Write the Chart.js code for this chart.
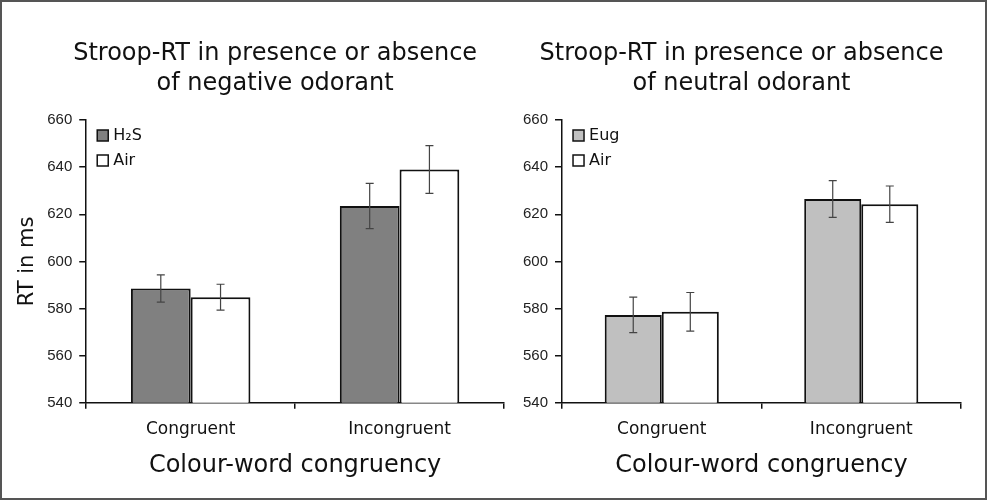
<!DOCTYPE html>
<html>
<head>
<meta charset="utf-8">
<script src="https://cdn.jsdelivr.net/npm/chart.js@4/dist/chart.umd.min.js"></script>
<style>
    html, body { margin: 0; padding: 0; background: #fff; }
    #frame { position: relative; width: 987px; height: 500px; box-sizing: border-box; border: 2px solid #555; overflow: hidden; }
    canvas { position: absolute; top: -2px; }
    #left { left: -2px; }
    #right { left: 513px; }
</style>
</head>
<body>
<div id="frame">
    <canvas id="left" width="515" height="500"></canvas>
    <canvas id="right" width="474" height="500"></canvas>
</div>
<script>
// categories and values (ms)
const categories = ['Congruent', 'Incongruent'];
const yTicks = [540, 560, 580, 600, 620, 640, 660];

const negH2S = [588.5, 623.5];
const negH2SErr = [5.8, 9.6];
const negAir = [584.8, 639.0];
const negAirErr = [5.5, 10.1];

const neuEug = [577.3, 626.5];
const neuEugErr = [7.5, 7.8];
const neuAir = [578.6, 624.3];
const neuAirErr = [8.2, 7.7];

const txtFont = 'DejaVu Sans';

// error bars drawn on top of each bar
const errorBars = {
    id: 'errorBars',
    afterDatasetsDraw(chart) {
        const ctx = chart.ctx;
        const y = chart.scales.y;
        chart.data.datasets.forEach((ds, i) => {
            const meta = chart.getDatasetMeta(i);
            meta.data.forEach((bar, j) => {
                const v = ds.data[j];
                const e = ds.errors[j];
                const top = y.getPixelForValue(v + e);
                const bot = y.getPixelForValue(v - e);
                ctx.save();
                ctx.strokeStyle = '#444';
                ctx.lineWidth = 1.2;
                ctx.beginPath();
                ctx.moveTo(bar.x, top); ctx.lineTo(bar.x, bot);
                ctx.moveTo(bar.x - 4, top); ctx.lineTo(bar.x + 4, top);
                ctx.moveTo(bar.x - 4, bot); ctx.lineTo(bar.x + 4, bot);
                ctx.stroke();
                ctx.restore();
            });
        });
    }
};

// small legend inside the plot, top left
const innerLegend = {
    id: 'innerLegend',
    afterDraw(chart) {
        const ctx = chart.ctx;
        const a = chart.chartArea;
        chart.data.datasets.forEach((ds, i) => {
            const x = a.left + 11;
            const yy = a.top + 10 + i * 25;
            ctx.save();
            ctx.fillStyle = ds.backgroundColor;
            ctx.strokeStyle = '#111';
            ctx.lineWidth = 1.5;
            ctx.fillRect(x, yy, 11, 11);
            ctx.strokeRect(x, yy, 11, 11);
            ctx.fillStyle = '#111';
            ctx.font = '16px "' + txtFont + '"';
            ctx.textBaseline = 'middle';
            ctx.fillText(ds.label, x + 16, yy + 6);
            ctx.restore();
        });
    }
};

// two-line panel title, a little left of the plot centre like the original
const panelTitle = {
    id: 'panelTitle',
    afterDraw(chart, args, opts) {
        const ctx = chart.ctx;
        const a = chart.chartArea;
        const cx = (a.left + a.right) / 2 - 20;
        ctx.save();
        ctx.fillStyle = '#111';
        ctx.font = '24px "' + txtFont + '"';
        ctx.textAlign = 'center';
        ctx.textBaseline = 'middle';
        opts.lines.forEach((t, i) => ctx.fillText(t, cx, 54 + i * 30));
        ctx.restore();
    }
};

function makeChart(id, title, series, showYTitle, padding) {
    const ctx = document.getElementById(id).getContext('2d');
    return new Chart(ctx, {
        type: 'bar',
        data: {
            labels: categories,
            datasets: series.map(s => ({
                label: s.label,
                data: s.data,
                errors: s.errors,
                backgroundColor: s.color,
                borderColor: '#111',
                borderWidth: 2,
                borderSkipped: 'bottom',
                categoryPercentage: 0.572,
                barPercentage: 1.0
            }))
        },
        options: {
            responsive: false,
            animation: false,
            layout: { padding: padding },
            plugins: {
                legend: { display: false },
                tooltip: { enabled: false },
                title: { display: false },
                panelTitle: { lines: title }
            },
            scales: {
                x: {
                    grid: { display: true, drawOnChartArea: false, tickLength: 6, color: '#111', lineWidth: 1.5 },
                    border: { color: '#111', width: 1.5 },
                    ticks: { color: '#111', font: { family: txtFont, size: 17 }, padding: 11 },
                    title: {
                        display: true,
                        text: 'Colour-word congruency',
                        color: '#111',
                        font: { family: txtFont, size: 24 },
                        padding: { top: 0, bottom: 0 }
                    }
                },
                y: {
                    min: 540,
                    max: 660,
                    afterBuildTicks: axis => { axis.ticks = yTicks.map(v => ({ value: v })); },
                    grid: { display: true, drawOnChartArea: false, tickLength: 7, color: '#111', lineWidth: 1.5 },
                    border: { color: '#111', width: 1.5 },
                    ticks: { color: '#222', font: { family: 'Liberation Sans', size: 15 }, padding: 7 },
                    title: {
                        display: showYTitle,
                        text: 'RT in ms',
                        color: '#111',
                        font: { family: txtFont, size: 21 },
                        padding: { top: 0, bottom: 0 }
                    }
                }
            }
        },
        plugins: [errorBars, innerLegend, panelTitle]
    });
}

makeChart('left',
    ['Stroop-RT in presence or absence', 'of negative odorant'],
    [
        { label: 'H₂S', data: negH2S, errors: negH2SErr, color: '#808080' },
        { label: 'Air', data: negAir, errors: negAirErr, color: '#ffffff' }
    ],
    true,
    { top: 120, left: 15, right: 11, bottom: 20 });

makeChart('right',
    ['Stroop-RT in presence or absence', 'of neutral odorant'],
    [
        { label: 'Eug', data: neuEug, errors: neuEugErr, color: '#c0c0c0' },
        { label: 'Air', data: neuAir, errors: neuAirErr, color: '#ffffff' }
    ],
    false,
    { top: 120, left: 1, right: 28, bottom: 20 });
</script>
</body>
</html>
